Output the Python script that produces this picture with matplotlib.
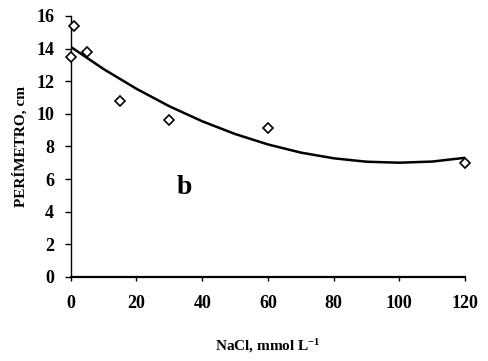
import matplotlib
matplotlib.use("Agg")
import matplotlib.pyplot as plt
import numpy as np

# Observed data points
nacl = [0, 1, 5, 15, 30, 60, 120]
perimetro = [13.5, 15.4, 13.8, 10.8, 9.6, 9.1, 7.0]

# Trend curve values
curve_x = [0, 10, 20, 30, 40, 50, 60, 70, 80, 90, 100, 110, 120]
curve_y = [14.1, 12.74, 11.53, 10.46, 9.54, 8.76, 8.12, 7.62, 7.27, 7.06, 7.0, 7.07, 7.3]

xticks = [0, 20, 40, 60, 80, 100, 120]
yticks = [0, 2, 4, 6, 8, 10, 12, 14, 16]

plt.rcParams['font.family'] = ['Liberation Serif', 'DejaVu Serif']
plt.rcParams['font.weight'] = 'bold'
plt.rcParams['mathtext.fontset'] = 'custom'
plt.rcParams['mathtext.rm'] = 'Liberation Serif:bold'
plt.rcParams['mathtext.bf'] = 'Liberation Serif:bold'
plt.rcParams['mathtext.default'] = 'bf'

fig = plt.figure(figsize=(4.88, 3.61), dpi=100)
ax = fig.add_axes([0.145, 0.233, 0.808, 0.723])

ax.plot(curve_x, curve_y, color='black', lw=1.8)
ax.plot(nacl, perimetro, linestyle='none', marker='D', markersize=5,
        markerfacecolor='white', markeredgecolor='black', markeredgewidth=1.2,
        clip_on=False, zorder=3)

ax.set_xlim(0, 120)
ax.set_ylim(0, 16)
ax.set_xticks(xticks)
ax.set_yticks(yticks)
ax.spines['top'].set_visible(False)
ax.spines['right'].set_visible(False)
ax.spines['left'].set_linewidth(1.0)
ax.spines['bottom'].set_linewidth(1.6)
ax.tick_params(axis='y', direction='out', length=4, width=1, pad=8, labelsize=13)
ax.tick_params(axis='x', direction='out', length=3, width=1, pad=10, labelsize=13)
for lab in ax.get_xticklabels() + ax.get_yticklabels():
    lab.set_fontweight('bold')

ax.set_ylabel('PERÍMETRO, cm', fontsize=11, fontweight='bold', labelpad=6)
ax.set_xlabel('NaCl, mmol L$^{-1}$', fontsize=11, fontweight='bold', labelpad=18)
ax.text(34.7, 5.5, 'b', fontsize=20, fontweight='bold', ha='center', va='center')

fig.savefig('out.png', dpi=100)
